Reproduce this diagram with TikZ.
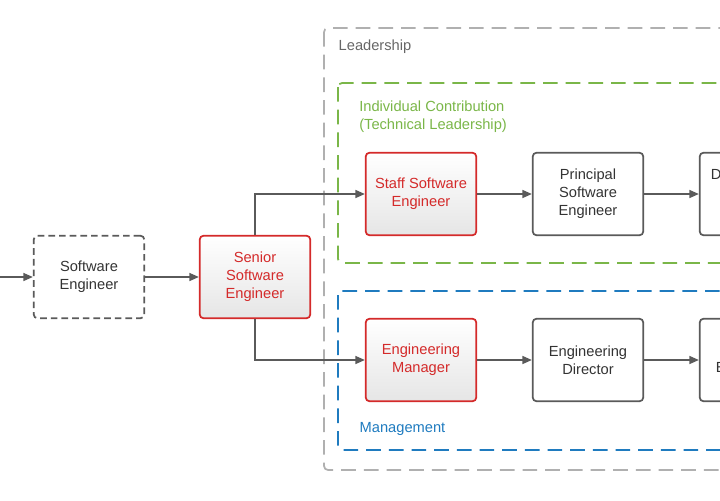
\documentclass[tikz,border=0pt]{standalone}
\usepackage{fontspec}
\setmainfont{Liberation Sans}
\usetikzlibrary{arrows.meta}
\definecolor{boxgray}{HTML}{5A5A5A}
\definecolor{hotred}{HTML}{D42A2A}
\definecolor{icgreen}{HTML}{7AB648}
\definecolor{mgblue}{HTML}{1F7BBF}
\definecolor{leadgray}{HTML}{B0B0B0}
\tikzset{
  role/.style={draw=boxgray, line width=1.3pt, rounded corners=3pt, minimum width=83pt, minimum height=62pt, align=center, text=black!80, font=\fontsize{11}{13.5}\selectfont},
  hot/.style={role, draw=hotred, text=hotred, top color=white, bottom color=black!10},
  link/.style={-{Triangle[length=7pt,width=6pt]}, draw=boxgray, line width=0.9pt},
  group/.style={line width=1.3pt, dash pattern=on 11pt off 6pt, rounded corners=3pt},
}
\begin{document}
\begin{tikzpicture}[x=0.75pt,y=-0.75pt]
  \useasboundingbox (0,0) rectangle (720,500);
  \clip (0,0) rectangle (720,500);

	%groups
 \draw[group, leadgray] (324,28) rectangle (760,470);
 \draw[group, icgreen] (338,83) rectangle (760,263);
 \draw[group, mgblue] (338,291) rectangle (760,450);
 \node[anchor=west, text=black!60, font=\fontsize{11}{13.5}\selectfont] (lead) at (334,47) {Leadership};
 \node[anchor=north west, text=icgreen, align=left, font=\fontsize{11}{13.5}\selectfont, inner sep=0pt] (ic) at (359,101) {Individual Contribution\\(Technical Leadership)};
 \node[anchor=west, text=mgblue, font=\fontsize{11}{13.5}\selectfont] (mgmt) at (355,429) {Management};

	%roles
 \node[role, dash pattern=on 5pt off 3pt] (swe) at (89,277) {Software\\Engineer};
 \node[hot] (senior) at (255,277) {Senior\\Software\\Engineer};
    \foreach \x/\y/\name/\txt/\sty in {421/194/staff/Staff Software\\Engineer/hot, 588/194/principal/Principal\\Software\\Engineer/role, 755/194/dist/Distinguished\\Software\\Engineer/role,
        421/360/em/Engineering\\Manager/hot, 588/360/ed/Engineering\\Director/role, 755/360/vp/VP of\\Engineering/role}{
           \node[\sty] (\name) at (\x,\y) {\txt};
    }

	%links
 \coordinate (start) at (0,277);
 \draw[link] (start) -- (swe);
 \draw[link] (swe) -- (senior);
 \draw[link] (senior.north) |- (staff.west);
 \draw[link] (senior.south) |- (em.west);
 \draw[link] (staff) -- (principal);
 \draw[link] (principal) -- (dist);
 \draw[link] (em) -- (ed);
 \draw[link] (ed) -- (vp);
\end{tikzpicture}
\end{document}
